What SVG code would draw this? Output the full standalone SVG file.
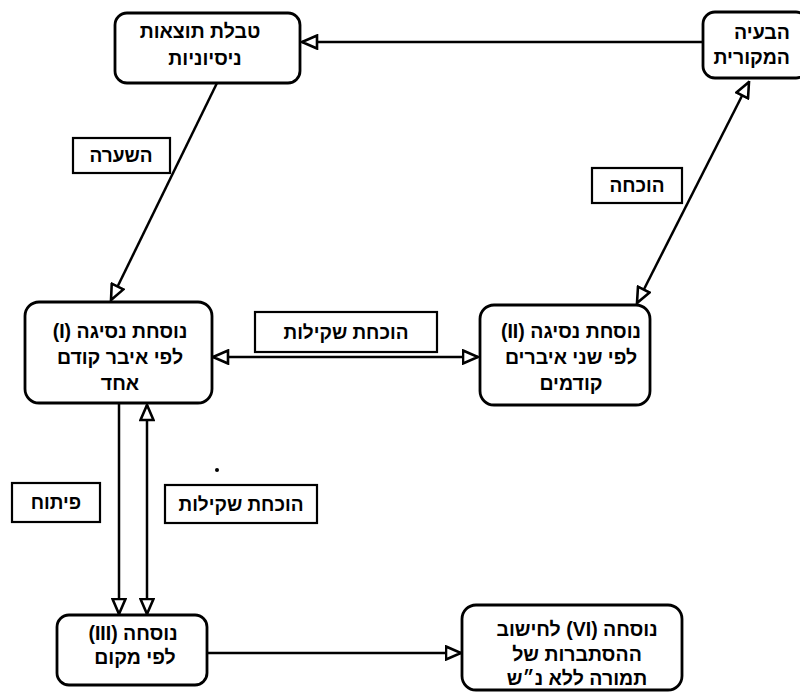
<svg xmlns="http://www.w3.org/2000/svg" width="800" height="697" viewBox="0 0 800 697">
<style>
.box{fill:#fff;stroke:#000;stroke-width:2.8}
.lbl{fill:#fff;stroke:#000;stroke-width:2.2}
.t{font-family:"Liberation Sans","DejaVu Sans",sans-serif;font-weight:bold;font-size:19.5px;fill:#000;text-anchor:middle;direction:rtl}
.l{font-family:"Liberation Sans","DejaVu Sans",sans-serif;font-weight:bold;font-size:19px;fill:#000;text-anchor:middle;direction:rtl}
.c{fill:none;stroke:#000;stroke-width:2.5}
</style>
<defs>
<marker id="ah" markerUnits="userSpaceOnUse" viewBox="0 0 18 16" refX="16.5" refY="8" markerWidth="18" markerHeight="16" orient="auto-start-reverse">
<path d="M1.5,1.5 L16.5,8 L1.5,14.5 Z" fill="#fff" stroke="#000" stroke-width="2.6"/>
</marker>
</defs>
<rect width="800" height="697" fill="#fff"/>
<g id="connectors">
<line class="c" x1="703" y1="42" x2="302" y2="42" marker-end="url(#ah)"/>
<line class="c" x1="217" y1="83" x2="111" y2="300" marker-end="url(#ah)"/>
<line class="c" x1="637" y1="303" x2="749" y2="82" marker-start="url(#ah)" marker-end="url(#ah)"/>
<line class="c" x1="213" y1="357" x2="478" y2="357" marker-start="url(#ah)" marker-end="url(#ah)"/>
<line class="c" x1="119" y1="403" x2="119" y2="614" marker-end="url(#ah)"/>
<line class="c" x1="147" y1="405" x2="147" y2="614" marker-start="url(#ah)" marker-end="url(#ah)"/>
<line class="c" x1="207" y1="653" x2="461" y2="653" marker-end="url(#ah)"/>
</g>
<g id="label-hashara"><rect class="lbl" x="73" y="138" width="97" height="35"/><text class="l" x="121" y="162">השערה</text></g>
<g id="label-hochacha"><rect class="lbl" x="592" y="168" width="90" height="35"/><text class="l" x="637" y="192">הוכחה</text></g>
<g id="label-shkilut1"><rect class="lbl" x="255" y="312" width="182" height="40"/><text class="l" x="346" y="339">הוכחת שקילות</text></g>
<g id="label-pituach"><rect class="lbl" x="12" y="483" width="88" height="39"/><text class="l" x="56" y="509">פיתוח</text></g>
<g id="label-shkilut2"><rect class="lbl" x="165" y="485" width="152" height="38"/><text class="l" x="241" y="511">הוכחת שקילות</text></g>
<g id="node-table"><rect class="box" x="115" y="13" width="185" height="70" rx="12"/><text class="t" x="200" y="38">טבלת תוצאות</text><text class="t" x="205" y="65">ניסיוניות</text></g>
<g id="node-problem"><rect class="box" x="703" y="12" width="105" height="66" rx="12"/><text class="t" x="790" y="39" style="text-anchor:start">הבעיה</text><text class="t" x="790" y="64" style="text-anchor:start">המקורית</text></g>
<g id="node-I"><rect class="box" x="25" y="302" width="187" height="101" rx="14"/><text class="t" x="120" y="338">נוסחת נסיגה (I)</text><text class="t" x="120" y="364">לפי איבר קודם</text><text class="t" x="120" y="390">אחד</text></g>
<g id="node-II"><rect class="box" x="480" y="305" width="170" height="100" rx="14"/><text class="t" x="571" y="338">נוסחת נסיגה (II)</text><text class="t" x="571" y="364">לפי שני איברים</text><text class="t" x="571" y="390">קודמים</text></g>
<g id="node-III"><rect class="box" x="57" y="615" width="150" height="70" rx="12"/><text class="t" x="133" y="640">נוסחה (III)</text><text class="t" x="135" y="664">לפי מקום</text></g>
<g id="node-VI"><rect class="box" x="462" y="605" width="220" height="85" rx="14"/><text class="t" x="577" y="636">נוסחה (VI) לחישוב</text><text class="t" x="577" y="661">ההסתברות של</text><text class="t" x="577" y="685">תמורה ללא נ״ש</text></g>
<circle cx="217" cy="470" r="2" fill="#000"/>
</svg>
